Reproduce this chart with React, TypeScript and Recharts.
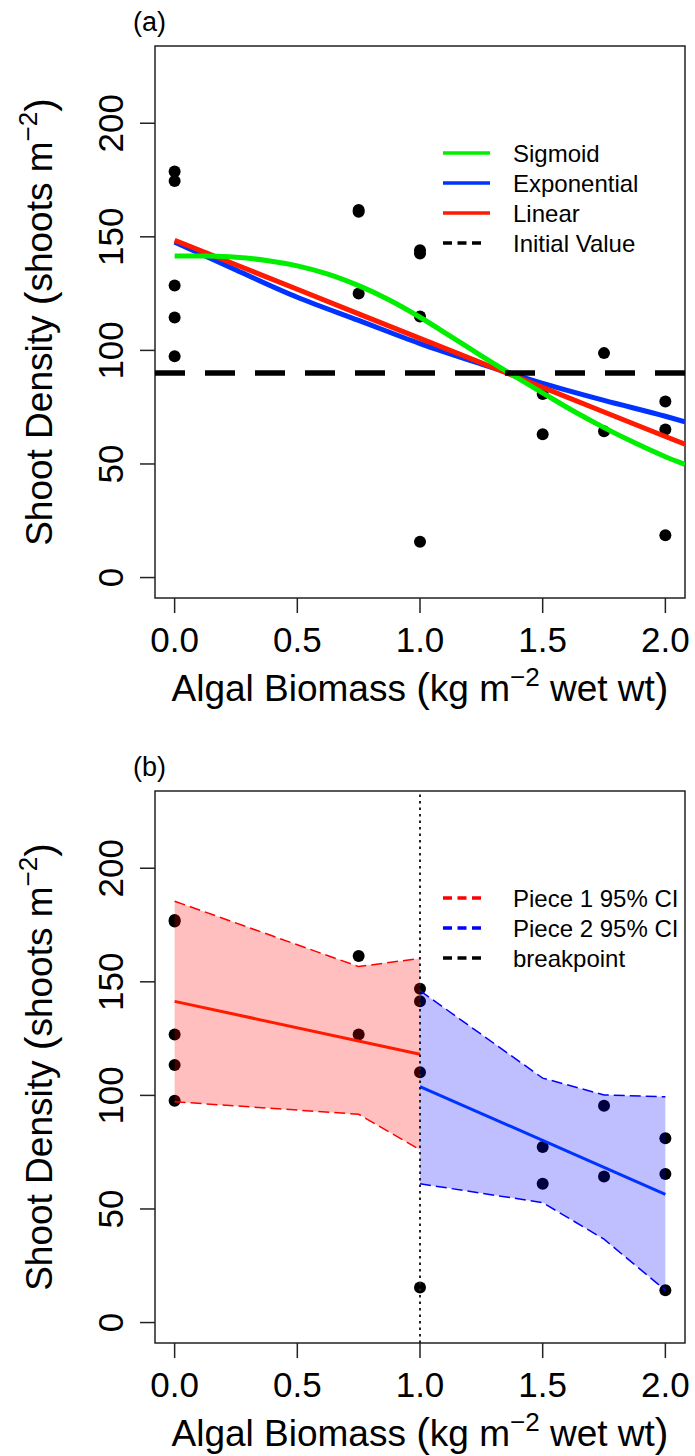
import React from 'react';
import { ComposedChart, XAxis, YAxis, Line, Scatter, Area, ReferenceLine, ReferenceArea } from 'recharts';

const FONT = '"Liberation Sans", Arial, Helvetica, sans-serif';

// ---------- Panel (a) ----------
const aPointX = [0, 0, 0, 0, 0, 0.75, 0.75, 0.75, 1, 1, 1, 1, 1.5, 1.5, 1.75, 1.75, 2, 2, 2];
const aPointY = [178.8, 174.6, 128.6, 114.5, 97.4, 161.8, 161.0, 125.0, 144.1, 142.7, 114.9, 15.8, 80.8, 63.1, 98.8, 64.4, 77.5, 65.2, 18.6];
const sigmoidX = [0, 0.125, 0.25, 0.375, 0.5, 0.625, 0.75, 0.875, 1, 1.125, 1.25, 1.375, 1.5, 1.625, 1.75, 1.875, 2, 2.08];
const sigmoidY = [141.6, 141.5, 141.0, 139.6, 137.2, 133.6, 128.5, 122.2, 114.6, 106.2, 97.6, 89.3, 81.3, 73.3, 66.0, 59.3, 53.2, 49.8];
const curveX = [0, 0.25, 0.5, 0.75, 1, 1.25, 1.5, 1.75, 2, 2.08];
const exponentialY = [147.7, 135.4, 123.4, 113.2, 103.0, 94.0, 85.5, 78.0, 71.0, 68.6];
const linearY = [148.5, 137.7, 126.9, 116.1, 105.3, 94.5, 83.7, 72.9, 62.1, 58.7];
const initialValue = 90;
const legendA = [
  { label: 'Sigmoid', color: '#00ee00', dashed: false },
  { label: 'Exponential', color: '#0033ff', dashed: false },
  { label: 'Linear', color: '#ff1a00', dashed: false },
  { label: 'Initial Value', color: '#000000', dashed: true },
];

// ---------- Panel (b) ----------
const bPointX = [0, 0, 0, 0, 0, 0.75, 0.75, 1, 1, 1, 1, 1.5, 1.5, 1.75, 1.75, 2, 2, 2];
const bPointY = [177.2, 176.5, 126.8, 113.4, 97.6, 161.4, 126.8, 146.9, 141.4, 110.2, 15.4, 77.3, 61.1, 95.4, 64.3, 81.1, 65.4, 14.2];
const piece1X = [0, 1];
const piece1Y = [141.4, 118.1];
const piece2X = [1, 2];
const piece2Y = [103.9, 56.4];
const ci1X = [0, 0.75, 1];
const ci1Lower = [97.2, 91.7, 76.1];
const ci1Upper = [185.5, 156.7, 160.3];
const ci2X = [1, 1.5, 1.75, 2];
const ci2Lower = [61.1, 52.8, 36.7, 14.2];
const ci2Upper = [146.1, 107.6, 100.2, 99.4];
const breakpoint = 1;
const legendB = [
  { label: 'Piece 1 95% CI', color: '#ff0000', dashed: true },
  { label: 'Piece 2 95% CI', color: '#0000ff', dashed: true },
  { label: 'breakpoint', color: '#000000', dashed: true },
];

// ---------- Axes ----------
const xTicks = [0, 0.5, 1, 1.5, 2];
const yTicks = [0, 50, 100, 150, 200];
const xDomain: [number, number] = [-0.08, 2.08];
const yDomain: [number, number] = [-9, 234];

const zip = (xs: number[], ys: any[]) => xs.map((x, i) => ({ x, y: ys[i] }));

const aPoints = zip(aPointX, aPointY);
const sigmoidData = zip(sigmoidX, sigmoidY);
const expData = zip(curveX, exponentialY);
const linData = zip(curveX, linearY);

const bPoints = zip(bPointX, bPointY);
const piece1Data = zip(piece1X, piece1Y);
const piece2Data = zip(piece2X, piece2Y);
const ci1Band = zip(ci1X, ci1X.map((_, i) => [ci1Lower[i], ci1Upper[i]]));
const ci2Band = zip(ci2X, ci2X.map((_, i) => [ci2Lower[i], ci2Upper[i]]));
const ci1Lo = zip(ci1X, ci1Lower);
const ci1Hi = zip(ci1X, ci1Upper);
const ci2Lo = zip(ci2X, ci2Lower);
const ci2Hi = zip(ci2X, ci2Upper);

const W = 695;
const AXIS_STROKE = '#222';

const XTick = (p: any) => (
  <text x={p.x} y={p.y + 37} textAnchor="middle" fontSize={35} fontFamily={FONT} fill="#000">
    {Number(p.payload.value).toFixed(1)}
  </text>
);

const YTick = (p: any) => {
  const cx = p.x - 15;
  return (
    <text x={cx} y={p.y} transform={`rotate(-90, ${cx}, ${p.y})`} textAnchor="middle" fontSize={35} fontFamily={FONT} fill="#000">
      {p.payload.value}
    </text>
  );
};

const YTitle = (props: any) => {
  const vb = props.viewBox || { x: 55, y: 46, width: 100, height: 552 };
  const cx = vb.x + vb.width - 103;
  const cy = vb.y + vb.height / 2;
  return (
    <text x={cx} y={cy} transform={`rotate(-90, ${cx}, ${cy})`} textAnchor="middle" fontSize={37} fontFamily={FONT} fill="#000">
      Shoot Density <tspan fontSize={41} dy={2}>(</tspan>
      <tspan dy={-2}>shoots m</tspan>
      <tspan fontSize={26} dy={-15}>−2</tspan>
      <tspan fontSize={41} dy={17}>)</tspan>
    </text>
  );
};

const XTitle = (props: any) => {
  const vb = props.viewBox || { x: 155, y: 598, width: 530, height: 100 };
  const cx = vb.x + vb.width / 2;
  const by = vb.y + 103;
  return (
    <text x={cx} y={by} textAnchor="middle" fontSize={37} fontFamily={FONT} fill="#000">
      Algal Biomass <tspan fontSize={41} dy={1}>(</tspan>
      <tspan dy={-1}>kg m</tspan>
      <tspan fontSize={26} dy={-15}>−2</tspan>
      <tspan dy={15}> wet wt</tspan>
      <tspan fontSize={41} dy={1}>)</tspan>
    </text>
  );
};

const Dot = (p: any) => <circle cx={p.cx} cy={p.cy} r={6} fill="#000" />;

const Overlay = ({ h, tag, items }: { h: number; tag: string; items: any[] }) => (
  <svg width={W} height={h} style={{ position: 'absolute', left: 0, top: 0, pointerEvents: 'none' }}>
    <text x={133} y={31} fontSize={27} fontFamily={FONT} fill="#000">{tag}</text>
    {items.map((it, i) => {
      const y = 153 + i * 30;
      return (
        <g key={it.label}>
          <line
            x1={443}
            x2={it.dashed ? 481 : 490}
            y1={y}
            y2={y}
            stroke={it.color}
            strokeWidth={3.5}
            strokeDasharray={it.dashed ? '9 5.5' : undefined}
          />
          <text x={513} y={y} dominantBaseline="central" fontSize={24} fontFamily={FONT} fill="#000">{it.label}</text>
        </g>
      );
    })}
  </svg>
);

const chartCommon = (h: number) => ({
  width: W,
  height: h,
  margin: { top: 46, right: 10, left: 55, bottom: h - 598 - 100 },
  style: { overflow: 'visible' },
});

const axisX = (
  <XAxis
    type="number"
    dataKey="x"
    domain={xDomain}
    ticks={xTicks}
    allowDataOverflow
    axisLine={false}
    tickLine={{ stroke: AXIS_STROKE, strokeWidth: 1.5 }}
    tickSize={15}
    height={100}
    tick={<XTick />}
    interval={0}
    label={<XTitle />}
  />
);

const axisY = (
  <YAxis
    type="number"
    dataKey="y"
    domain={yDomain}
    ticks={yTicks}
    allowDataOverflow
    axisLine={false}
    tickLine={{ stroke: AXIS_STROKE, strokeWidth: 1.5 }}
    tickSize={15}
    width={100}
    tick={<YTick />}
    interval={0}
    label={<YTitle />}
  />
);

const box = (
  <ReferenceArea x1={xDomain[0]} x2={xDomain[1]} y1={yDomain[0]} y2={yDomain[1]} fill="none" fillOpacity={0} stroke={AXIS_STROKE} strokeWidth={1.5} ifOverflow="visible" />
);

function PanelA() {
  const h = 745;
  return (
    <div style={{ position: 'relative', width: W, height: h }}>
      <ComposedChart {...chartCommon(h)}>
        {axisX}
        {axisY}
        <Scatter data={aPoints} shape={<Dot />} isAnimationActive={false} zIndex={50} />
        <Line data={expData} dataKey="y" type="monotone" stroke="#0033ff" strokeWidth={5} dot={false} activeDot={false} isAnimationActive={false} />
        <Line data={linData} dataKey="y" type="linear" stroke="#ff1a00" strokeWidth={5} dot={false} activeDot={false} isAnimationActive={false} />
        <Line data={sigmoidData} dataKey="y" type="monotone" stroke="#00ee00" strokeWidth={5} dot={false} activeDot={false} isAnimationActive={false} />
        <ReferenceLine y={initialValue} stroke="#000" strokeWidth={5.5} strokeDasharray="30 20" />
        {box}
      </ComposedChart>
      <Overlay h={h} tag="(a)" items={legendA} />
    </div>
  );
}

function PanelB() {
  const h = 711;
  return (
    <div style={{ position: 'relative', width: W, height: h }}>
      <ComposedChart {...chartCommon(h)}>
        {axisX}
        {axisY}
        <Scatter data={bPoints} shape={<Dot />} isAnimationActive={false} zIndex={50} />
        <Area data={ci1Band} dataKey="y" type="linear" fill="#ff0000" fillOpacity={0.25} stroke="none" activeDot={false} isAnimationActive={false} />
        <Area data={ci2Band} dataKey="y" type="linear" fill="#0000ff" fillOpacity={0.25} stroke="none" activeDot={false} isAnimationActive={false} />
        <Line data={ci1Hi} dataKey="y" type="linear" stroke="#ff0000" strokeWidth={1.5} strokeDasharray="11 5" dot={false} activeDot={false} isAnimationActive={false} />
        <Line data={ci1Lo} dataKey="y" type="linear" stroke="#ff0000" strokeWidth={1.5} strokeDasharray="11 5" dot={false} activeDot={false} isAnimationActive={false} />
        <Line data={ci2Hi} dataKey="y" type="linear" stroke="#0000ff" strokeWidth={1.5} strokeDasharray="11 5" dot={false} activeDot={false} isAnimationActive={false} />
        <Line data={ci2Lo} dataKey="y" type="linear" stroke="#0000ff" strokeWidth={1.5} strokeDasharray="11 5" dot={false} activeDot={false} isAnimationActive={false} />
        <Line data={piece1Data} dataKey="y" type="linear" stroke="#ff1a00" strokeWidth={3} dot={false} activeDot={false} isAnimationActive={false} />
        <Line data={piece2Data} dataKey="y" type="linear" stroke="#0033ff" strokeWidth={3} dot={false} activeDot={false} isAnimationActive={false} />
        <ReferenceLine x={breakpoint} stroke="#222" strokeWidth={2} strokeDasharray="2.5 4" />
        {box}
      </ComposedChart>
      <Overlay h={h} tag="(b)" items={legendB} />
    </div>
  );
}

export default function App() {
  return (
    <div style={{ position: 'absolute', left: 0, top: 0, width: W, height: 1456, background: '#fff' }}>
      <PanelA />
      <PanelB />
    </div>
  );
}
